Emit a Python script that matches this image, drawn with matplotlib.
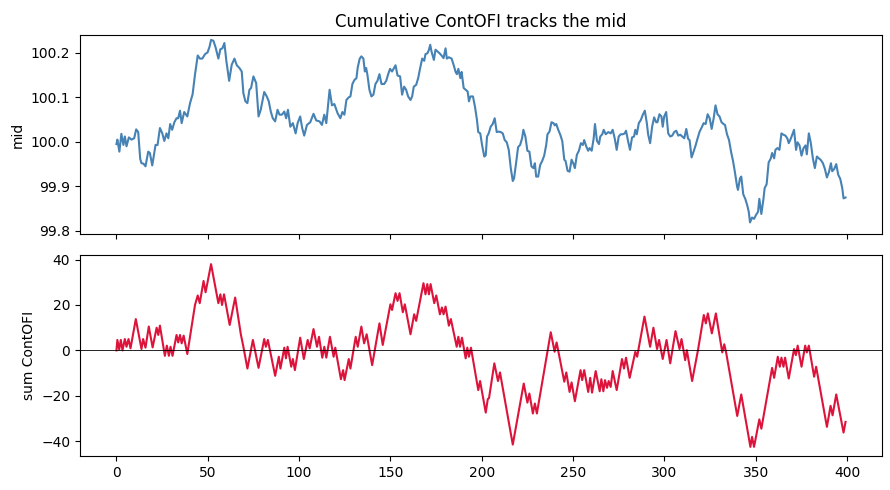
import matplotlib
matplotlib.use("Agg")
import matplotlib.pyplot as plt

# ---- mid price (x index, value) ----
mid_x = [0, 0.5, 1.6, 2.7, 3.8, 4.6, 5.5, 6.8, 8.2, 9.7, 10.8, 11.9, 13.0, 13.7, 14.8, 15.9, 17.4, 18.3, 19.6,
         21.4, 22.5, 23.8, 25.1, 26.2, 27.4, 28.4, 29.4, 30.5, 31.7, 32.9, 33.8, 34.8, 35.7, 37.1, 38.8, 40.3,
         41.7, 43.0, 44.5, 45.7, 47.0, 48.5, 49.9, 51.0, 51.8, 53.1, 54.3, 55.8, 56.9, 58.0, 59.1, 60.2, 61.7,
         63.1, 64.6, 65.9, 67.3, 68.6, 69.5, 70.6, 71.7, 72.8, 73.7, 75.0, 76.5, 77.8, 79.0, 80.9, 82.3, 83.4,
         84.5, 85.6, 86.9, 88.2, 89.3, 90.6, 91.9, 92.9, 93.9, 95.2, 96.6, 98.1, 99.2, 100.6, 101.7, 102.8,
         104.3, 106.1, 107.9, 109.4, 111.2, 112.5, 113.8, 114.9, 116.7, 118.0, 119.3, 121.1, 122.6, 123.7,
         124.8, 125.9, 127.2, 128.1, 129.2, 130.3, 131.4, 132.1, 133.2, 134.1, 135.2, 136.0, 136.7, 137.4,
         138.5, 139.6, 140.7, 141.8, 142.9, 144.0, 145.1, 146.6, 147.7, 148.7, 149.8, 150.9, 152.0, 152.8,
         153.9, 155.3, 156.4, 157.5, 158.6, 159.7, 161.0, 161.9, 162.8, 164.1, 165.2, 166.3, 167.4, 168.5,
         169.2, 170.3, 171.1, 171.8, 172.5, 173.8, 174.7, 175.8, 176.9, 178.0, 179.1, 180.2, 180.9, 182.0,
         183.5, 184.6, 185.7, 186.4, 187.2, 188.3, 189.0, 190.1, 191.2, 192.3, 193.0, 193.8, 195.2, 196.3,
         197.4, 198.1, 199.2, 200.3, 201.4, 202.2, 202.9, 203.8, 204.9, 206.0, 207.1, 208.2, 209.3, 210.4,
         211.5, 212.6, 213.7, 214.8, 215.9, 217.0, 217.7, 218.8, 219.9, 221.0, 222.1, 222.8, 223.9, 225.0,
         226.1, 227.2, 228.3, 229.1, 229.8, 230.9, 232.0, 233.1, 234.2, 235.3, 236.0, 237.1, 238.2, 239.3,
         240.0, 240.8, 241.9, 243.0, 244.1, 245.2, 245.9, 247.0, 248.1, 249.2, 250.3, 251.0, 252.1, 253.2,
         254.3, 255.4, 256.1, 257.2, 258.3, 259.1, 260.2, 261.3, 262.0, 263.1, 264.2, 264.9, 266.0, 266.8,
         267.9, 269.3, 270.6, 271.7, 272.8, 273.9, 275.0, 276.1, 277.2, 278.3, 279.0, 280.1, 281.2, 282.3,
         283.4, 284.1, 284.9, 286.0, 287.1, 288.2, 289.3, 290.4, 291.1, 292.2, 293.3, 294.4, 295.5, 296.2,
         297.3, 298.4, 299.1, 299.9, 301.0, 302.1, 303.2, 304.3, 305.4, 306.5, 307.6, 308.7, 309.8, 310.9,
         312.0, 313.0, 313.8, 314.9, 316.0, 317.1, 318.2, 319.3, 320.4, 321.5, 322.6, 323.7, 324.8, 325.9,
         327.0, 328.0, 329.1, 330.2, 331.3, 332.4, 333.2, 334.3, 335.4, 336.5, 337.6, 338.7, 339.8, 340.3,
         341.4, 342.1, 343.2, 344.3, 345.4, 346.2, 346.9, 348.0, 349.1, 350.2, 351.3, 352.0, 353.1, 354.2,
         354.9, 356.0, 357.1, 358.2, 359.0, 360.1, 360.8, 361.9, 363.0, 364.1, 365.2, 366.3, 367.4, 368.1,
         369.2, 370.3, 371.0, 372.1, 372.9, 374.0, 375.1, 376.2, 377.3, 378.0, 379.1, 380.2, 381.3, 382.4,
         383.5, 384.6, 385.7, 386.8, 387.9, 389.0, 390.1, 391.2, 391.9, 393.0, 394.1, 395.2, 396.3, 397.4,
         398.1, 399.2]
mid_y = [99.995, 100.005, 99.978, 100.018, 99.993, 100.012, 99.990, 100.010, 100.005, 100.008, 100.028,
         100.022, 99.962, 99.952, 99.951, 99.945, 99.978, 99.975, 99.947, 99.993, 99.993, 100.031, 100.019,
         100.002, 100.019, 100.008, 100.040, 100.027, 100.044, 100.053, 100.053, 100.070, 100.042, 100.067,
         100.057, 100.087, 100.107, 100.151, 100.194, 100.187, 100.187, 100.197, 100.201, 100.214, 100.229,
         100.227, 100.212, 100.187, 100.208, 100.210, 100.222, 100.181, 100.137, 100.173, 100.187, 100.172,
         100.166, 100.158, 100.109, 100.091, 100.087, 100.117, 100.121, 100.147, 100.132, 100.057, 100.072,
         100.112, 100.102, 100.091, 100.068, 100.053, 100.046, 100.072, 100.061, 100.061, 100.068, 100.053,
         100.072, 100.034, 100.042, 100.019, 100.042, 100.057, 100.031, 100.014, 100.038, 100.044, 100.063,
         100.048, 100.046, 100.038, 100.061, 100.042, 100.117, 100.082, 100.085, 100.064, 100.053, 100.067,
         100.061, 100.094, 100.100, 100.102, 100.130, 100.139, 100.143, 100.167, 100.187, 100.192, 100.187,
         100.158, 100.166, 100.151, 100.117, 100.102, 100.106, 100.130, 100.137, 100.152, 100.130, 100.130,
         100.137, 100.151, 100.164, 100.158, 100.166, 100.172, 100.149, 100.147, 100.106, 100.124, 100.117,
         100.102, 100.094, 100.102, 100.124, 100.128, 100.143, 100.166, 100.187, 100.182, 100.197, 100.199,
         100.207, 100.218, 100.203, 100.184, 100.207, 100.203, 100.199, 100.194, 100.188, 100.210, 100.187,
         100.190, 100.187, 100.173, 100.157, 100.152, 100.164, 100.143, 100.157, 100.121, 100.117, 100.113,
         100.091, 100.102, 100.102, 100.079, 100.049, 100.022, 100.019, 99.990, 99.967, 99.970, 100.012,
         100.019, 100.034, 100.040, 100.053, 100.022, 100.023, 100.022, 100.019, 100.004, 99.999, 99.982,
         99.941, 99.912, 99.918, 99.952, 99.988, 99.993, 100.008, 100.027, 100.012, 99.980, 99.978, 99.945,
         99.941, 99.952, 99.922, 99.922, 99.948, 99.957, 99.969, 99.993, 100.017, 100.023, 100.044, 100.042,
         100.037, 100.040, 100.027, 100.016, 100.002, 99.960, 99.957, 99.935, 99.933, 99.960, 99.950, 99.941,
         99.971, 99.980, 99.997, 99.993, 100.004, 99.990, 99.980, 99.986, 99.980, 100.008, 100.040, 100.002,
         99.995, 100.012, 100.017, 100.027, 100.017, 100.022, 100.019, 100.027, 100.008, 99.982, 100.012,
         100.017, 100.017, 100.019, 100.025, 100.002, 99.982, 100.010, 100.012, 100.027, 100.017, 100.042,
         100.049, 100.061, 100.070, 100.042, 100.017, 99.997, 100.034, 100.055, 100.044, 100.044, 100.062,
         100.057, 100.034, 100.057, 100.067, 100.019, 100.012, 100.014, 100.022, 100.025, 100.014, 100.016,
         100.012, 100.008, 100.029, 100.007, 100.004, 99.965, 99.978, 99.992, 100.008, 100.023, 100.032,
         100.042, 100.040, 100.062, 100.053, 100.029, 100.053, 100.082, 100.062, 100.057, 100.044, 100.040,
         100.038, 100.017, 100.004, 99.978, 99.957, 99.930, 99.900, 99.892, 99.918, 99.922, 99.882, 99.872,
         99.857, 99.843, 99.819, 99.830, 99.827, 99.836, 99.843, 99.872, 99.838, 99.870, 99.896, 99.905,
         99.954, 99.962, 99.975, 99.963, 99.982, 99.986, 99.982, 100.019, 100.016, 100.014, 100.007, 99.997,
         100.007, 100.019, 100.027, 99.982, 99.999, 99.992, 99.969, 99.986, 99.992, 99.972, 100.019, 99.997,
         99.963, 99.941, 99.967, 99.963, 99.959, 99.952, 99.939, 99.920, 99.932, 99.952, 99.934, 99.939,
         99.950, 99.926, 99.917, 99.896, 99.873, 99.875]

# ---- cumulative ContOFI (x index, value) ----
ofi_x = [0, 0.5, 1.5, 2.4, 3.3, 4.6, 5.5, 6.6, 7.7, 10.6, 13.7, 14.6, 15.9, 17.7, 19.8, 22.0, 22.9, 23.8,
         26.5, 27.6, 28.7, 29.6, 30.7, 32.9, 33.8, 34.8, 35.7, 36.8, 38.8, 43.0, 44.5, 45.6, 47.7, 48.8, 51.8,
         55.8, 56.9, 57.8, 58.9, 62.0, 64.9, 65.0, 68.1, 69.5, 71.7, 74.7, 77.8, 80.9, 81.8, 82.9, 86.9, 88.9,
         89.8, 91.9, 92.8, 93.7, 95.7, 96.6, 97.7, 100.6, 102.6, 104.7, 105.8, 107.9, 109.8, 110.9, 112.7,
         113.8, 114.9, 116.9, 118.9, 119.8, 122.9, 124.1, 124.9, 127.2, 128.1, 131.0, 132.1, 134.1, 135.6,
         137.0, 140.0, 144.0, 145.8, 150.0, 150.9, 152.8, 153.9, 155.0, 156.8, 157.9, 161.0, 163.0, 164.1,
         168.1, 169.2, 170.2, 171.1, 172.0, 174.0, 175.1, 177.1, 178.2, 179.1, 180.2, 182.0, 183.1, 186.3,
         187.2, 188.1, 189.2, 191.2, 192.1, 193.0, 194.1, 198.1, 199.1, 202.2, 203.3, 204.0, 206.9, 208.9,
         210.0, 217.0, 223.0, 225.0, 226.1, 228.0, 229.1, 230.2, 237.8, 239.9, 241.0, 245.2, 246.3, 248.1,
         249.2, 251.0, 254.1, 255.0, 256.1, 258.3, 259.4, 260.4, 262.4, 264.6, 265.5, 266.6, 267.5, 268.6,
         269.5, 270.6, 271.7, 273.9, 276.8, 277.9, 279.0, 281.0, 284.1, 285.1, 289.1, 292.2, 294.0, 296.0,
         297.1, 299.1, 301.2, 303.2, 306.1, 308.3, 309.4, 311.4, 312.3, 315.2, 318.4, 321.6, 322.7, 323.8,
         326.0, 328.2, 331.7, 332.8, 333.9, 339.9, 342.1, 347.1, 348.0, 349.1, 352.0, 353.1, 359.0, 360.1,
         362.1, 363.2, 364.1, 365.2, 366.1, 368.1, 371.0, 372.0, 373.0, 375.1, 377.1, 378.0, 379.1, 382.0,
         383.1, 389.0, 391.0, 392.1, 394.1, 398.1, 399.2]
ofi_y = [0, 4.6, 0.4, 4.6, 0, 5.0, 1.6, 5.0, 0.9, 13.8, 0.6, 5.0, 1.2, 10.5, 1.3, 10.0, 6.8, 10.9,
         -2.4, 2.1, -2.4, 1.6, -2.4, 6.8, 3.5, 6.8, 3.1, 6.5, -1.6, 20.0, 24.2, 20.8, 30.6, 25.6, 38.0,
         20.8, 24.7, 20.0, 24.7, 11.2, 23.0, 23.3, 7.1, 1.6, -8.0, 4.6, -7.7, 5.0, 1.6, 4.6, -11.2, -2.8,
         -8.0, 1.2, -3.5, 1.6, -7.2, -3.8, -8.7, 5.6, -3.8, 4.6, 0.9, 9.4, 1.6, 6.0, -3.2,
         1.6, -3.2, 6.0, -2.8, 1.2, -12.7, -8.7, -13.1, -3.8, -8.0, 6.0, 1.6, 10.5, 3.1,
         7.1, -6.5, 11.9, 2.4, 20.3, 17.8, 25.2, 21.8, 25.2, 16.8, 20.3, 7.1, 15.9, 13.0,
         29.6, 24.7, 29.2, 24.7, 29.2, 20.8, 24.2, 15.9, 18.9, 15.9, 19.3, 10.9, 13.8, 1.6,
         6.0, 1.6, 5.6, -3.5, 1.2, -2.8, 1.2, -17.5, -13.5, -27.4, -21.5, -21.0, -5.7, -13.5,
         -9.7, -41.5, -14.6, -23.0, -19.0, -27.8, -23.4, -27.8, 8.0, -0.6, 3.5, -13.8, -9.7, -18.3,
         -14.1, -22.4, -8.7, -13.1, -8.7, -18.3, -12.1, -18.6, -9.1, -18.0, -12.7, -18.0, -13.1, -16.5,
         -13.5, -16.1, -9.1, -17.5, -3.8, -8.0, -3.2, -12.1, -0.6, -2.8, 14.9, 1.6, 10.0, 0.6,
         4.6, -3.8, 4.6, -5.7, 8.5, 0.6, 5.0, -4.3, 0.1, -13.5, 0.1, 15.6, 11.9, 16.3,
         7.5, 16.3, -0.9, 2.7, -1.3, -28.9, -19.4, -42.5, -38.1, -42.5, -30.4, -34.5, -7.7, -12.1,
         -2.8, -7.2, -3.2, -7.2, -3.2, -12.4, 0.6, -2.1, 2.1, -7.2, 2.1, -0.9, 2.1, -11.6,
         -7.2, -33.7, -24.4, -28.6, -19.4, -36.2, -31.5]

title = "Cumulative ContOFI tracks the mid"
ylabel_top = "mid"
ylabel_bottom = "sum ContOFI"

fig, (ax1, ax2) = plt.subplots(2, 1, figsize=(8.9, 4.9), dpi=100, sharex=True)
W, H = 890.0, 490.0
ax1.set_position([80 / W, 1 - 234 / H, 802 / W, 199 / H])
ax2.set_position([80 / W, 1 - 456 / H, 802 / W, 201 / H])

ax1.plot(mid_x, mid_y, color="steelblue", lw=1.5)
ax1.set_ylabel(ylabel_top)
ax1.set_title(title)
ax1.set_yticks([99.8, 99.9, 100.0, 100.1, 100.2])
ax1.set_ylim(99.793, 100.240)

ax2.plot(ofi_x, ofi_y, color="crimson", lw=1.5)
ax2.axhline(0, color="black", lw=0.6)
ax2.set_ylabel(ylabel_bottom)
ax2.set_xticks([0, 50, 100, 150, 200, 250, 300, 350, 400])

fig.savefig("out.png", dpi=100)
